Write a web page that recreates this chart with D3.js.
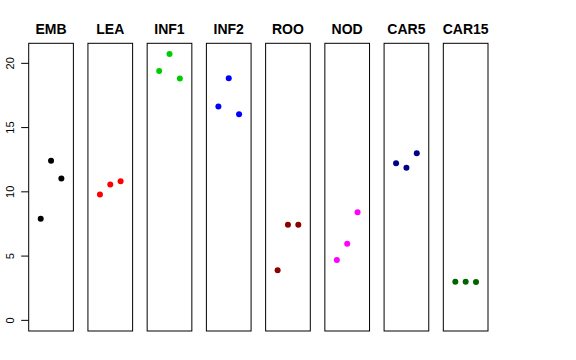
<!DOCTYPE html>
<html>
<head>
<meta charset="utf-8">
<script src="https://cdn.jsdelivr.net/npm/d3@7"></script>
<style>
  html, body { margin: 0; padding: 0; background: #fff; }
  svg { display: block; }
</style>
</head>
<body>
<svg id="chart" width="576" height="360"></svg>
<script>
// ---- data ----
const categories = ["EMB", "LEA", "INF1", "INF2", "ROO", "NOD", "CAR5", "CAR15"];
const colors = ["#000000", "#FF0000", "#00CD00", "#0000FF", "#8B0000", "#FF00FF", "#00008B", "#006400"];
const values = [
  [7.9, 12.41, 11.04],
  [9.80, 10.58, 10.83],
  [19.41, 20.73, 18.82],
  [16.64, 18.84, 16.04],
  [3.89, 7.43, 7.43],
  [4.69, 5.96, 8.42],
  [12.23, 11.87, 13.01],
  [3.00, 3.00, 2.98]
];
const yTicks = [0, 5, 10, 15, 20];

// ---- layout ----
const svg = d3.select("#chart");
const plotTop = 43.3, plotBottom = 331;
const plotLeft = 28.7, plotRight = 488;

const band = d3.scaleBand().domain(categories).range([plotLeft, plotRight]).paddingInner(0.2456).paddingOuter(0);
const ymax = d3.max(values.flat());
const pad = 0.04 * ymax;
const y = d3.scaleLinear().domain([0 - pad, ymax + pad]).range([plotBottom, plotTop]);
const xin = d3.scaleLinear().domain([0 - 0.16, 4 + 0.16]).range([0, band.bandwidth()]);

const panels = svg.selectAll("g.panel").data(categories).enter().append("g")
  .attr("class", "panel")
  .attr("transform", d => `translate(${band(d)},0)`);

panels.append("rect")
  .attr("x", 0).attr("y", plotTop)
  .attr("width", band.bandwidth()).attr("height", plotBottom - plotTop)
  .attr("fill", "none").attr("stroke", "#000").attr("stroke-width", 1);

panels.append("text")
  .attr("x", band.bandwidth() / 2).attr("y", 34)
  .attr("text-anchor", "middle")
  .attr("font-family", "Liberation Sans, Arial, Helvetica, sans-serif")
  .attr("font-weight", "bold").attr("font-size", 14)
  .text(d => d);

panels.each(function(cat, i) {
  d3.select(this).selectAll("circle").data(values[i]).enter().append("circle")
    .attr("cx", (v, j) => xin(j + 1))
    .attr("cy", v => y(v))
    .attr("r", 3)
    .attr("fill", colors[i]);
});

// ---- y axis ----
const axis = svg.append("g").attr("transform", `translate(${plotLeft},0)`);
axis.selectAll("line.tick").data(yTicks).enter().append("line")
  .attr("x1", -7.5).attr("x2", 0)
  .attr("y1", d => y(d)).attr("y2", d => y(d))
  .attr("stroke", "#000").attr("stroke-width", 1);
axis.selectAll("text").data(yTicks).enter().append("text")
  .attr("transform", d => `translate(${-14.5},${y(d)}) rotate(-90)`)
  .attr("text-anchor", "middle")
  .attr("font-family", "Liberation Sans, Arial, Helvetica, sans-serif")
  .attr("font-size", 11)
  .text(d => d);
</script>
</body>
</html>
